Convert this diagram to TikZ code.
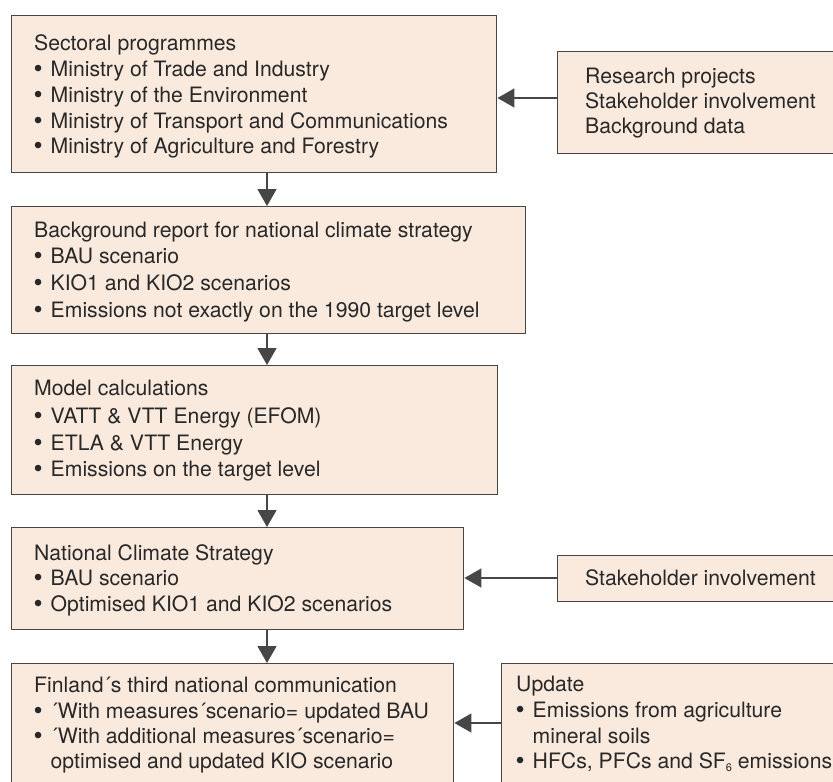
\documentclass[tikz,border=0pt]{standalone}
\usepackage{fontspec}
\setmainfont{TeX Gyre Heros}
\usetikzlibrary{arrows.meta}
\definecolor{boxfill}{RGB}{250,234,222}
\definecolor{edge}{RGB}{70,70,70}
\definecolor{ink}{RGB}{40,40,40}
\newcommand{\bul}{\makebox[16.5pt][l]{\hspace*{-0.5pt}\raisebox{-1.2pt}{\fontsize{26}{25}\selectfont\textbullet}}}
\newcommand{\lowsix}{\raisebox{-3.5pt}{\fontsize{11}{11}\selectfont 6}}
\begin{document}
\begin{tikzpicture}[x=1pt,y=-1pt,
  panel/.style={draw=edge, fill=boxfill, line width=1.4pt, rectangle, inner sep=0pt, anchor=north west},
  txt/.style={anchor=base west, inner sep=0pt, text=ink, font=\fontsize{21.2}{25}\selectfont},
  flow/.style={draw=edge, line width=1.4pt, -{Triangle[length=17pt,width=19pt]}}]
\useasboundingbox (0,0) rectangle (833,782);
\begin{scope}
\clip (0,0) rectangle (833,782);
% panels
\node[panel, minimum width=485pt, minimum height=157pt] (b1) at (11,15) {};
\node[panel, minimum width=514pt, minimum height=127pt] (b2) at (11,206) {};
\node[panel, minimum width=486pt, minimum height=129pt] (b3) at (11,365) {};
\node[panel, minimum width=452pt, minimum height=102pt] (b4) at (11,527) {};
\node[panel, minimum width=442pt, minimum height=200pt] (b5) at (11,663) {};
\node[panel, minimum width=300pt, minimum height=102pt] (r1) at (557,51) {};
\node[panel, minimum width=300pt, minimum height=46pt] (r2) at (557,555) {};
\node[panel, minimum width=400pt, minimum height=200pt] (r3) at (501,663) {};
% texts
\foreach \y/\t [count=\i] in {50/{Sectoral programmes},
  76/{\bul Ministry of Trade and Industry},
  102/{\bul Ministry of the Environment},
  128/{\bul Ministry of Transport and Communications},
  153/{\bul Ministry of Agriculture and Forestry}}
  \node[txt] (ta-\i) at (34,\y) {\t};
\foreach \y/\t [count=\i] in {237/{Background report for national climate strategy},
  263/{\bul BAU scenario},
  290/{\bul KIO1 and KIO2 scenarios},
  317/{\bul Emissions not exactly on the 1990 target level}}
  \node[txt] (tb-\i) at (34,\y) {\t};
\foreach \y/\t [count=\i] in {395/{Model calculations},
  423/{\bul VATT \& VTT Energy (EFOM)},
  450/{\bul ETLA \& VTT Energy},
  476/{\bul Emissions on the target level}}
  \node[txt] (tc-\i) at (34,\y) {\t};
\foreach \y/\t [count=\i] in {560/{National Climate Strategy},
  585/{\bul BAU scenario},
  611/{\bul Optimised KIO1 and KIO2 scenarios}}
  \node[txt] (td-\i) at (34,\y) {\t};
\foreach \y/\t [count=\i] in {692/{Finland´s third national communication},
  718/{\bul ´With measures´scenario= updated BAU},
  743/{\bul ´With additional measures´scenario=},
  768/{\hspace*{16.5pt}optimised and updated KIO scenario}}
  \node[txt] (te-\i) at (34,\y) {\t};
\foreach \y/\t [count=\i] in {83/{Research projects},
  108/{Stakeholder involvement},
  133/{Background data}}
  \node[txt] (tr-\i) at (585,\y) {\t};
\node[txt] (ts-1) at (585,585) {Stakeholder involvement};
\foreach \y/\t [count=\i] in {691/{Update},
  717/{\bul Emissions from agriculture},
  743/{\hspace*{16.5pt}mineral soils},
  768/{\bul HFCs, PFCs and SF\lowsix{} emissions}}
  \node[txt] (tu-\i) at (516,\y) {\t};
% connectors
\coordinate (ax) at (267,0);
\coordinate (ay1) at (0,98);
\coordinate (ay2) at (0,578);
\coordinate (ay3) at (0,723);
\draw[flow] (b1.south -| ax) -- (b2.north -| ax);
\draw[flow] (b2.south -| ax) -- (b3.north -| ax);
\draw[flow] (b3.south -| ax) -- (b4.north -| ax);
\draw[flow] (b4.south -| ax) -- (b5.north -| ax);
\draw[flow] (r1.west |- ay1) -- (b1.east |- ay1);
\draw[flow] (r2.west |- ay2) -- (b4.east |- ay2);
\draw[flow] (r3.west |- ay3) -- (b5.east |- ay3);
\end{scope}
\end{tikzpicture}
\end{document}
